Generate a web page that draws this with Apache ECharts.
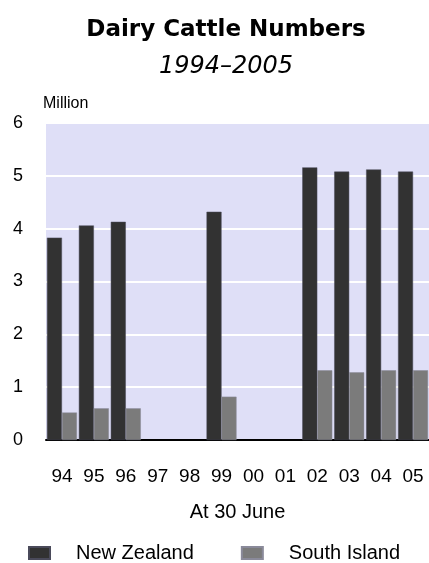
<!DOCTYPE html>
<html>
<head>
<meta charset="utf-8">
<script src="https://cdn.jsdelivr.net/npm/echarts@6/dist/echarts.min.js"></script>
<style>
  html, body { margin: 0; padding: 0; background: #ffffff; }
  #chart { width: 429px; height: 563px; }
</style>
</head>
<body>
<div id="chart"></div>
<script>
// Dairy cattle at 30 June, millions (no survey figures for 97, 98, 00, 01)
const years = ['94', '95', '96', '97', '98', '99', '00', '01', '02', '03', '04', '05'];
const newZealand = [3.83, 4.06, 4.13, null, null, 4.32, null, null, 5.16, 5.08, 5.12, 5.08];
const southIsland = [0.52, 0.60, 0.60, null, null, 0.82, null, null, 1.32, 1.28, 1.32, 1.32];
const yTicks = { min: 0, max: 6, interval: 1 };

const FONT = '"Liberation Sans", Arial, sans-serif';
const WIDE = '"DejaVu Sans", Verdana, sans-serif';

const chart = echarts.init(document.getElementById('chart'));
chart.setOption({
  animation: false,
  backgroundColor: '#ffffff',
  title: [
    {
      text: 'Dairy Cattle Numbers',
      left: 221, top: 14, textAlign: 'center',
      textStyle: { fontFamily: WIDE, fontWeight: 'bold', fontSize: 23, color: '#000000' }
    },
    {
      text: '1994\u20132005',
      left: 221, top: 50, textAlign: 'center',
      textStyle: { fontFamily: WIDE, fontStyle: 'italic', fontWeight: 'normal', fontSize: 24, color: '#000000' }
    }
  ],
  legend: {
    left: 23, top: 538,
    itemWidth: 21, itemHeight: 12, itemGap: 47,
    icon: 'rect',
    textStyle: { fontFamily: FONT, fontSize: 20, color: '#000000', padding: [0, 0, 0, 21] },
    data: ['New Zealand', 'South Island']
  },
  grid: {
    left: 46, top: 123, width: 384, height: 317,
    show: true, backgroundColor: '#dfdff7', borderWidth: 0
  },
  xAxis: {
    type: 'category',
    data: years,
    name: 'At 30 June',
    nameLocation: 'middle',
    nameGap: 62,
    nameTextStyle: { fontFamily: FONT, fontSize: 20, color: '#000000' },
    axisLine: { show: true, lineStyle: { color: '#000000', width: 2 } },
    axisTick: { show: false },
    axisLabel: { fontFamily: FONT, fontSize: 19, color: '#000000', margin: 27 }
  },
  yAxis: {
    type: 'value',
    min: yTicks.min, max: yTicks.max, interval: yTicks.interval,
    name: 'Million',
    nameLocation: 'end',
    nameGap: 11,
    nameTextStyle: { fontFamily: FONT, fontSize: 16, color: '#000000', align: 'left', padding: [0, 0, 0, -3] },
    axisLine: { show: false },
    axisTick: { show: false },
    axisLabel: { fontFamily: FONT, fontSize: 18, color: '#000000', margin: 23 },
    splitLine: { show: true, lineStyle: { color: '#ffffff', width: 2 } }
  },
  series: [
    {
      name: 'New Zealand',
      type: 'bar',
      data: newZealand,
      barGap: '0%',
      barCategoryGap: '6%',
      itemStyle: { color: '#323232', borderColor: '#4a4a5a', borderWidth: 0.5 }
    },
    {
      name: 'South Island',
      type: 'bar',
      data: southIsland,
      itemStyle: { color: '#7b7b7b', borderColor: '#8a8a9a', borderWidth: 0.5 }
    }
  ]
});
</script>
</body>
</html>
